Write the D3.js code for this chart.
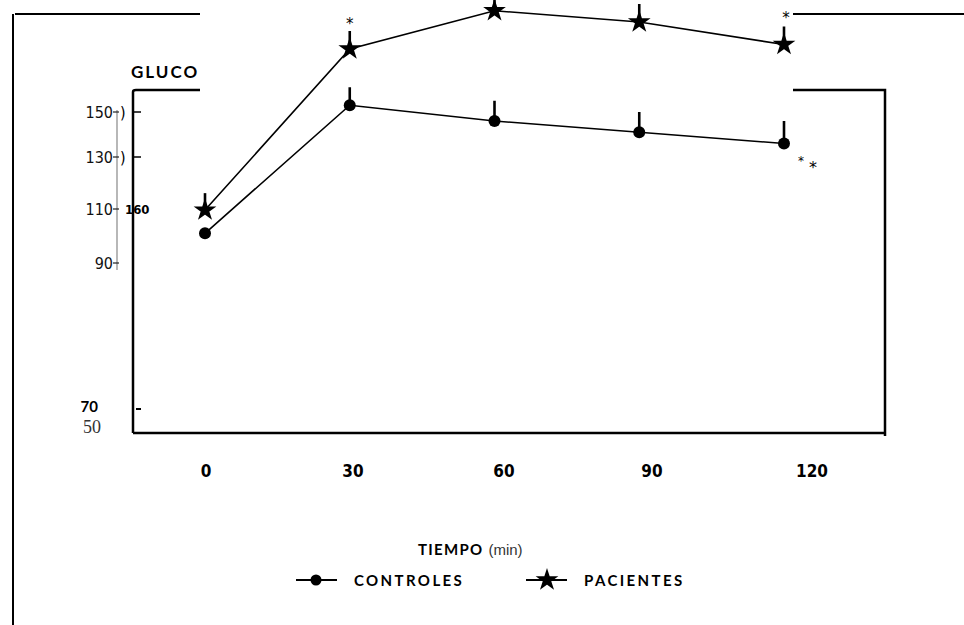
<!DOCTYPE html>
<html>
<head>
<meta charset="utf-8">
<script src="https://cdn.jsdelivr.net/npm/d3@7"></script>
<style>
  body { margin: 0; background: #fff; }
  svg { display: block; }
  .bold { font-family: "Lato", "DejaVu Sans", sans-serif; font-weight: 700; }
  .narrow { font-family: "DejaVu Sans", sans-serif; font-stretch: condensed; }
</style>
</head>
<body>
<svg id="chart" width="964" height="625"></svg>
<script>
// data
var tiempos = [0, 30, 60, 90, 120];
var controles = [101, 153, 146, 141, 136];
var controlesErr = [0, 8, 9, 9, 10];
var pacientes = [109.6, 178, 195, 190, 180];
var pacientesErr = [6.5, 8, 6, 8, 8];
var yTicks = [150, 130, 110, 90];
var yTickLabels = ["150", "130", "110", "90"];
var xTickLabels = ["0", "30", "60", "90", "120"];

var svg = d3.select("#chart");

// scanned figure: axis spacing is not even, so the scales have several stops
var x = d3.scaleLinear().domain([0, 120]).range([205, 784]);
var xLab = d3.scaleLinear().domain([0, 30, 60, 90, 120]).range([206, 353, 504, 652, 812]);
var y = d3.scaleLinear().domain([50, 70, 90, 110, 130, 150]).range([424, 408, 263, 209, 157, 112]);

// outer frame (pieces left over from the paste)
svg.append("line").attr("x1", 13).attr("x2", 13).attr("y1", 14).attr("y2", 625)
  .attr("stroke", "#000").attr("stroke-width", 2);
svg.append("line").attr("x1", 15).attr("x2", 200).attr("y1", 14).attr("y2", 14)
  .attr("stroke", "#000").attr("stroke-width", 2);
svg.append("line").attr("x1", 793).attr("x2", 964).attr("y1", 14).attr("y2", 14)
  .attr("stroke", "#000").attr("stroke-width", 2);

// plot box
var box = svg.append("g").attr("stroke", "#000").attr("stroke-width", 2.5).attr("fill", "none");
box.append("path").attr("d", "M133,433V92Q133,90 136,90H200");
box.append("path").attr("d", "M793,90H885V436");
box.append("line").attr("x1", 133).attr("x2", 885).attr("y1", 433).attr("y2", 433);

svg.append("text").attr("class", "bold").attr("x", 131).attr("y", 78)
  .attr("font-size", 17).attr("letter-spacing", 2).text("GLUCO");

// y axis (scanned tick column)
svg.append("line").attr("x1", 117).attr("x2", 117).attr("y1", y(150) - 2).attr("y2", y(90) + 7)
  .attr("stroke", "#888").attr("stroke-width", 1.2);

var yt = svg.append("g").selectAll("g").data(yTicks).enter().append("g");
yt.append("text").attr("class", "narrow")
  .attr("x", 113).attr("y", function(d) { return y(d) + 6; })
  .attr("text-anchor", "end").attr("font-size", 16).attr("fill", "#111")
  .text(function(d, i) { return yTickLabels[i]; });
yt.append("line").attr("x1", 113).attr("x2", 119)
  .attr("y1", function(d) { return y(d); }).attr("y2", function(d) { return y(d); })
  .attr("stroke", "#222").attr("stroke-width", 1.2);

// ticks on the box for the two top values
svg.selectAll(".rtick").data([150, 130]).enter().append("line")
  .attr("x1", 133).attr("x2", 141)
  .attr("y1", function(d) { return y(d); }).attr("y2", function(d) { return y(d); })
  .attr("stroke", "#000").attr("stroke-width", 1.5);
svg.selectAll(".paren").data([150, 130]).enter().append("text").attr("class", "narrow")
  .attr("x", 120).attr("y", function(d) { return y(d) + 6; })
  .attr("font-size", 16).text(")");
svg.append("text").attr("class", "narrow").attr("x", 125).attr("y", y(110) + 5)
  .attr("font-size", 13).attr("font-weight", 700).text("160");

svg.append("text").attr("class", "bold").attr("x", 98).attr("y", y(70) + 4)
  .attr("text-anchor", "end").attr("font-size", 15).text("70");
svg.append("line").attr("x1", 136).attr("x2", 141).attr("y1", y(70) + 1).attr("y2", y(70) + 1)
  .attr("stroke", "#000").attr("stroke-width", 2);
svg.append("text").attr("x", 101).attr("y", y(50) + 9)
  .attr("text-anchor", "end").attr("font-size", 18).attr("fill", "#333")
  .attr("font-family", "Liberation Serif, serif").text("50");

// x tick labels
svg.selectAll(".xlab").data(tiempos).enter().append("text")
  .attr("class", "narrow").attr("font-weight", 700)
  .attr("x", function(d) { return xLab(d); }).attr("y", 477)
  .attr("text-anchor", "middle").attr("font-size", 17)
  .text(function(d, i) { return xTickLabels[i]; });

var tt = svg.append("text").attr("x", 418).attr("y", 555).attr("font-size", 15);
tt.append("tspan").attr("class", "bold").attr("letter-spacing", 1.3).text("TIEMPO");
tt.append("tspan").attr("dx", 5).attr("font-family", "Liberation Sans, sans-serif")
  .attr("fill", "#333").text("(min)");

// series
var line = d3.line().x(function(d, i) { return x(tiempos[i]); }).y(function(d) { return y(d); });
var star = d3.symbol().type(d3.symbolStar).size(85);

function drawSeries(vals, errs, isStar) {
  var g = svg.append("g");
  g.append("path").attr("d", line(vals)).attr("fill", "none")
    .attr("stroke", "#000").attr("stroke-width", 1.6);
  g.selectAll(".err").data(vals).enter().append("line")
    .attr("x1", function(d, i) { return x(tiempos[i]); })
    .attr("x2", function(d, i) { return x(tiempos[i]); })
    .attr("y1", function(d) { return y(d); })
    .attr("y2", function(d, i) { return y(d + errs[i]); })
    .attr("stroke", "#000").attr("stroke-width", 2.6);
  if (isStar) {
    g.selectAll(".pt").data(vals).enter().append("path")
      .attr("d", star).attr("stroke", "#000").attr("stroke-width", 2)
      .attr("transform", function(d, i) { return "translate(" + x(tiempos[i]) + "," + y(d) + ")"; });
  } else {
    g.selectAll(".pt").data(vals).enter().append("circle")
      .attr("cx", function(d, i) { return x(tiempos[i]); })
      .attr("cy", function(d) { return y(d); }).attr("r", 6);
  }
}
drawSeries(controles, controlesErr, false);
drawSeries(pacientes, pacientesErr, true);

// significance marks
var ast = svg.append("g").attr("font-family", "DejaVu Sans, sans-serif").attr("font-size", 15);
ast.append("text").attr("x", x(30)).attr("y", y(pacientes[1] + pacientesErr[1]) - 2)
  .attr("text-anchor", "middle").text("*");
ast.append("text").attr("x", x(120) + 2).attr("y", y(pacientes[4] + pacientesErr[4]) - 4)
  .attr("text-anchor", "middle").text("*");
ast.append("text").attr("x", x(120) + 17).attr("y", y(controles[4]) + 21)
  .attr("text-anchor", "middle").attr("font-size", 12).text("*");
ast.append("text").attr("x", x(120) + 29).attr("y", y(controles[4]) + 29)
  .attr("text-anchor", "middle").attr("font-size", 16).text("*");

// legend
var legend = svg.append("g").attr("transform", "translate(296,580)");
var items = [{ name: "CONTROLES", star: false, dx: 0 }, { name: "PACIENTES", star: true, dx: 230 }];
var li = legend.selectAll("g").data(items).enter().append("g")
  .attr("transform", function(d) { return "translate(" + d.dx + ",0)"; });
li.append("line").attr("x1", 0).attr("x2", 41).attr("y1", 0).attr("y2", 0)
  .attr("stroke", "#000").attr("stroke-width", 2);
li.each(function(d) {
  if (d.star) d3.select(this).append("path").attr("d", star)
    .attr("stroke", "#000").attr("stroke-width", 2).attr("transform", "translate(21,0)");
  else d3.select(this).append("circle").attr("cx", 20).attr("cy", 0).attr("r", 5.5);
});
li.append("text").attr("class", "bold").attr("x", 58).attr("y", 6)
  .attr("font-size", 15).attr("letter-spacing", 2.4).text(function(d) { return d.name; });
</script>
</body>
</html>
